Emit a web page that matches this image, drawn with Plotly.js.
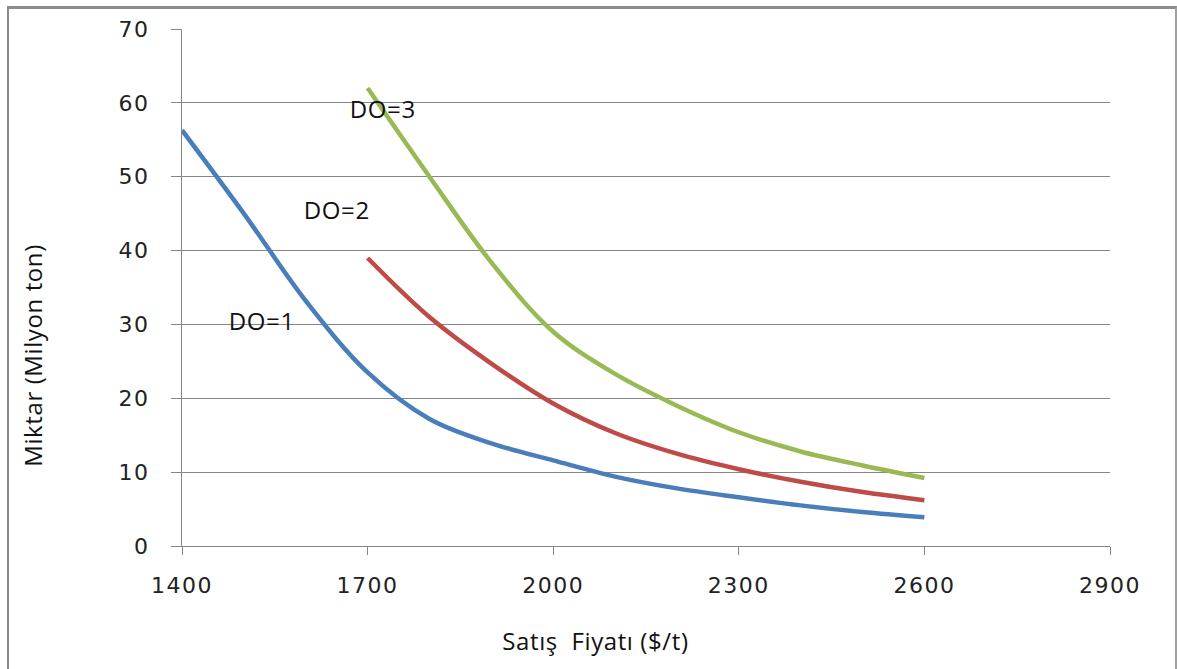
<!DOCTYPE html>
<html>
<head>
<meta charset="utf-8">
<script src="https://cdn.plot.ly/plotly-3.0.1.min.js"></script>
<style>
html,body{margin:0;padding:0;background:#fff;}
#wrap{position:relative;width:1177px;height:669px;overflow:hidden;}
#chart{position:absolute;left:0;top:0;width:1177px;height:669px;}
#frame{position:absolute;left:7px;top:6px;width:1166px;height:680px;border-left:2px solid #8c8c8c;border-top:3px solid #8c8c8c;border-right:2px solid #a0a0a0;pointer-events:none;}
.xtick text, .ytick text{letter-spacing:1.5px;}
.annotation text{letter-spacing:0.6px;}
</style>
</head>
<body>
<div id="wrap"><div id="chart"></div><div id="frame"></div></div>
<script>
var priceDO1 = [1400,1500,1600,1700,1800,1900,2000,2100,2200,2300,2400,2500,2600];
var qtyDO1   = [56.3,45.0,33.2,23.5,17.2,13.9,11.6,9.4,7.8,6.6,5.5,4.6,3.9];
var priceDO2 = [1700,1800,1900,2000,2100,2200,2300,2400,2500,2600];
var qtyDO2   = [39.0,31.0,24.7,19.3,15.3,12.5,10.4,8.7,7.3,6.2];
var priceDO3 = [1700,1800,1900,2000,2100,2200,2300,2400,2500,2600];
var qtyDO3   = [62.0,50.0,38.4,29.0,23.3,19.0,15.4,12.8,10.9,9.2];
var seriesNames = ["DO=1","DO=2","DO=3"];
var xTicks = [1400,1700,2000,2300,2600,2900];
var yTicks = [0,10,20,30,40,50,60,70];
var labelPos = [[1530,30.5],[1650,45.6],[1725,59.2]];
var xTitle = "Satış  Fiyatı ($/t)";
var yTitle = "Miktar (Milyon ton)";

var colors = ["#4a7ebb","#be4b48","#98b954"];
var xs = [priceDO1, priceDO2, priceDO3];
var ys = [qtyDO1, qtyDO2, qtyDO3];
var traces = xs.map(function(x,i){
  return {x:x, y:ys[i], name:seriesNames[i], type:'scatter', mode:'lines',
    line:{color:colors[i], width:4.5, shape:'spline', smoothing:1}};
});
var txtFont = {family:'Open Sans, sans-serif', size:24, color:'#111'};
var annotations = seriesNames.map(function(n,i){
  return {x:labelPos[i][0], y:labelPos[i][1], xref:'x', yref:'y', text:n, showarrow:false, font:txtFont};
});
annotations.push({xref:'paper', yref:'paper', x:0.446, y:-0.182, xanchor:'center', yanchor:'middle',
  text:xTitle, showarrow:false, font:txtFont});
annotations.push({xref:'paper', yref:'paper', x:-0.1616, y:0.3675, xanchor:'center', yanchor:'middle',
  text:yTitle, textangle:-90, showarrow:false, font:txtFont});
var layout = {
  width:1177, height:669,
  margin:{l:182, r:67, t:29, b:123},
  paper_bgcolor:'#fff', plot_bgcolor:'#fff',
  showlegend:false,
  xaxis:{range:[1400,2900], tickvals:xTicks, ticktext:xTicks.map(String),
    showgrid:false, zeroline:false, showline:true, linecolor:'#868686', linewidth:1,
    ticks:'outside', ticklen:8, tickcolor:'#868686', ticklabelstandoff:12,
    tickfont:{family:'DejaVu Sans, sans-serif', size:22, color:'#222'},
    automargin:false, fixedrange:true},
  yaxis:{range:[0,70], tickvals:yTicks, ticktext:yTicks.map(String),
    showgrid:true, gridcolor:'#868686', gridwidth:1, zeroline:false,
    showline:true, linecolor:'#868686', linewidth:1,
    ticks:'outside', ticklen:10, tickcolor:'#868686', ticklabelstandoff:17,
    tickfont:{family:'DejaVu Sans, sans-serif', size:22, color:'#222'},
    automargin:false, fixedrange:true},
  annotations:annotations
};
Plotly.newPlot('chart', traces, layout, {displayModeBar:false, staticPlot:true});
</script>
</body>
</html>
